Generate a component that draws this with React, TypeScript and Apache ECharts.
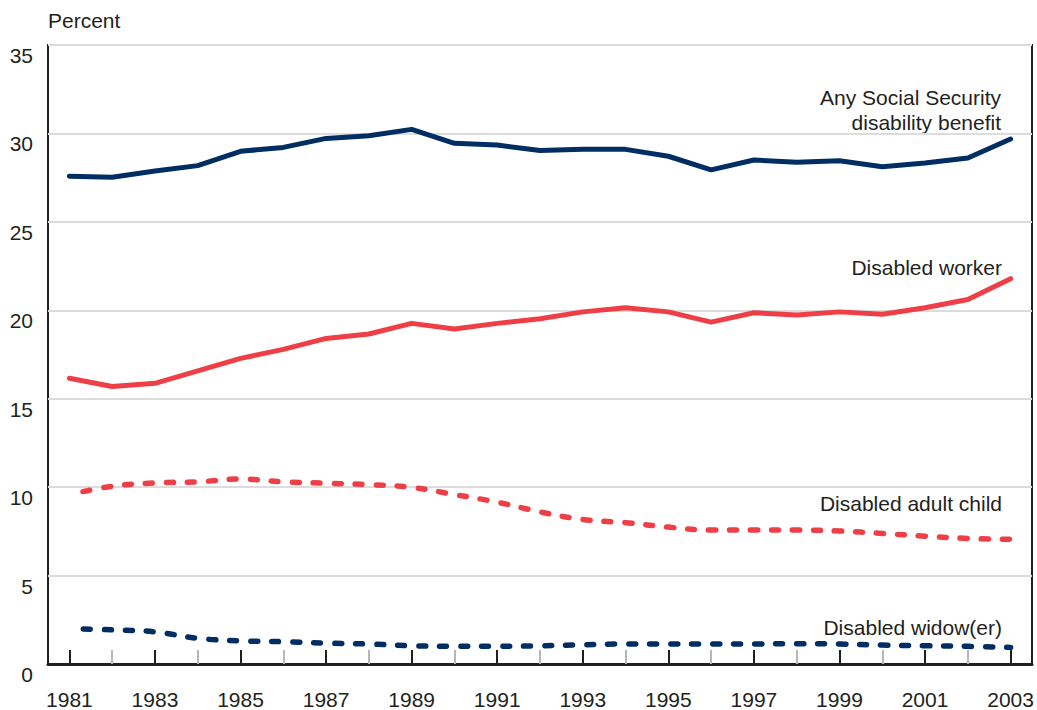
import React, { useEffect, useRef } from "react";
import * as echarts from "echarts";

const years = [
  "1981", "1982", "1983", "1984", "1985", "1986", "1987", "1988", "1989", "1990", "1991", "1992",
  "1993", "1994", "1995", "1996", "1997", "1998", "1999", "2000", "2001", "2002", "2003",
];
const anyDisabilityBenefit = [
  27.58, 27.52, 27.87, 28.18, 28.99, 29.21, 29.72, 29.87, 30.23, 29.44, 29.34, 29.03,
  29.1, 29.1, 28.71, 27.94, 28.5, 28.37, 28.46, 28.12, 28.33, 28.61, 29.68,
];
const disabledWorker = [
  16.16, 15.69, 15.87, 16.57, 17.28, 17.79, 18.41, 18.66, 19.26, 18.94, 19.26, 19.52,
  19.91, 20.14, 19.91, 19.33, 19.86, 19.74, 19.91, 19.78, 20.14, 20.61, 21.79,
];
const disabledAdultChild = [
  9.58, 10.05, 10.24, 10.3, 10.46, 10.3, 10.22, 10.14, 9.99, 9.58, 9.15, 8.6,
  8.17, 7.99, 7.74, 7.57, 7.57, 7.57, 7.52, 7.38, 7.23, 7.1, 7.05,
];
const disabledWidower = [
  2.0, 1.93, 1.82, 1.45, 1.31, 1.26, 1.18, 1.13, 1.03, 1.0, 1.0, 1.03,
  1.09, 1.13, 1.13, 1.13, 1.13, 1.15, 1.13, 1.07, 1.03, 1.0, 0.94,
];
const yTicks = { min: 0, max: 35, interval: 5 };

const NAVY = "#002d62";
const RED = "#ef3f46";
const INK = "#231f20";
const FONT = '"Liberation Sans", Arial, Helvetica, sans-serif';
const FS = 21;

export default function App() {
  const ref = useRef<HTMLDivElement>(null);
  useEffect(() => {
    const chart = echarts.init(ref.current!, null, { renderer: "svg" });
    const lineSeries = (name: string, data: number[], color: string, dashed: boolean) => ({
      name,
      type: "line",
      data,
      xAxisIndex: 0,
      symbol: "none",
      smooth: dashed ? 0.4 : false,
      lineStyle: {
        color,
        width: dashed ? 5.5 : 5,
        cap: "round",
        join: "round",
        type: dashed ? [7, 14] : "solid",
        dashOffset: dashed ? 7 : 0,
      },
      z: 3,
    });
    chart.setOption({
      animation: false,
      grid: {
        left: 48,
        right: 5,
        top: 45,
        bottom: 45,
        show: true,
        borderColor: INK,
        borderWidth: 2,
        backgroundColor: "transparent",
      },
      xAxis: [
        {
          type: "category",
          data: years,
          boundaryGap: true,
          position: "bottom",
          axisLine: { show: true, lineStyle: { color: INK, width: 3 } },
          axisTick: {
            show: true,
            inside: true,
            length: 14,
            alignWithLabel: true,
            interval: (i: number) => i % 2 === 0,
            lineStyle: { color: INK, width: 2 },
          },
          axisLabel: {
            interval: 1,
            margin: 25,
            fontSize: FS,
            fontFamily: FONT,
            color: INK,
          },
          splitLine: { show: false },
        },
        {
          type: "category",
          data: years,
          boundaryGap: true,
          position: "bottom",
          axisLine: { show: false },
          axisTick: {
            show: true,
            inside: true,
            length: 14,
            alignWithLabel: true,
            interval: (i: number) => i % 2 === 1,
            lineStyle: { color: "#b4b8bb", width: 2 },
          },
          axisLabel: { show: false },
          splitLine: { show: false },
        },
      ],
      yAxis: {
        type: "value",
        min: yTicks.min,
        max: yTicks.max,
        interval: yTicks.interval,
        axisLine: { show: false },
        axisTick: { show: false },
        axisLabel: {
          margin: 15,
          verticalAlign: "top",
          fontSize: FS,
          fontFamily: FONT,
          color: INK,
        },
        splitLine: { show: true, lineStyle: { color: "#dcdcdc", width: 2 } },
      },
      series: [
        lineSeries("Any Social Security disability benefit", anyDisabilityBenefit, NAVY, false),
        lineSeries("Disabled worker", disabledWorker, RED, false),
        lineSeries("Disabled adult child", disabledAdultChild, RED, true),
        lineSeries("Disabled widow(er)", disabledWidower, NAVY, true),
      ],
      graphic: [
        {
          type: "text",
          x: 48,
          y: 20,
          style: { text: "Percent", font: `${FS}px ${FONT}`, fill: INK, verticalAlign: "middle", align: "left" },
        },
        {
          type: "text",
          x: 1001,
          y: 109.5,
          style: {
            text: "Any Social Security\ndisability benefit",
            font: `${FS}px ${FONT}`,
            lineHeight: 25,
            fill: INK,
            align: "right",
            verticalAlign: "middle",
          },
        },
        {
          type: "text",
          x: 1002,
          y: 267,
          style: { text: "Disabled worker", font: `${FS}px ${FONT}`, fill: INK, align: "right", verticalAlign: "middle" },
        },
        {
          type: "text",
          x: 1002,
          y: 503,
          style: { text: "Disabled adult child", font: `${FS}px ${FONT}`, fill: INK, align: "right", verticalAlign: "middle" },
        },
        {
          type: "text",
          x: 1002,
          y: 627,
          style: { text: "Disabled widow(er)", font: `${FS}px ${FONT}`, fill: INK, align: "right", verticalAlign: "middle" },
        },
      ],
    });
    return () => chart.dispose();
  }, []);
  return (
    <div
      ref={ref}
      style={{ position: "absolute", left: 0, top: 0, width: 1037, height: 710, background: "#fff" }}
    />
  );
}
